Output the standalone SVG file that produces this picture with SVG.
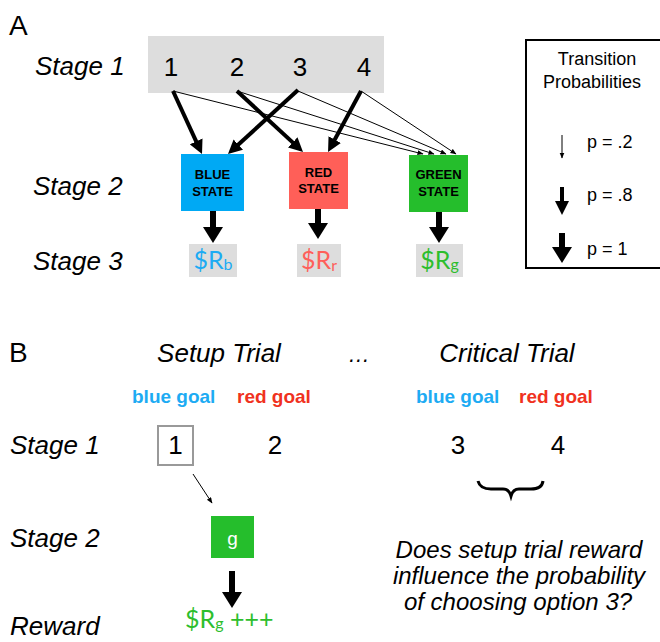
<svg xmlns="http://www.w3.org/2000/svg" width="660" height="642" viewBox="0 0 660 642">
  <style>
    text { font-family: "Liberation Sans", Arial, sans-serif; fill: #000; }
    .panel { font-size: 28px; }
    .stage { font-size: 26px; font-style: italic; }
    .num { font-size: 26px; text-anchor: middle; }
    .state { font-size: 13px; font-weight: bold; text-anchor: middle; }
    .rew { font-family: Lato, "Open Sans", sans-serif; font-size: 25px; text-anchor: middle; }
    .sub { font-size: 16px; }
    .legend { font-size: 18px; }
    .goal { font-size: 19px; font-weight: bold; }
    .trial { font-size: 26px; font-style: italic; text-anchor: middle; }
    .q { font-size: 24px; font-style: italic; text-anchor: middle; }
    .thin { stroke: #000; stroke-width: 1; fill: none; }
    .thick { stroke: #000; stroke-width: 4; fill: none; }
    .full { stroke: #000; stroke-width: 6; fill: none; }
  </style>
  <defs>
    <marker id="hThin" markerUnits="userSpaceOnUse" orient="auto" markerWidth="7" markerHeight="6" refX="5.5" refY="2.5">
      <path d="M0,0 L6,2.5 L0,5 z" fill="#000"/>
    </marker>
    <marker id="hThick" markerUnits="userSpaceOnUse" orient="auto" markerWidth="15" markerHeight="14" refX="8" refY="7">
      <path d="M0,0 L14,7 L0,14 z" fill="#000"/>
    </marker>
    <marker id="hFull" markerUnits="userSpaceOnUse" orient="auto" markerWidth="17" markerHeight="20" refX="6" refY="10">
      <path d="M0,0 L16,10 L0,20 z" fill="#000"/>
    </marker>
  </defs>

  <!-- Panel A -->
  <text class="panel" x="9" y="35">A</text>
  <text class="stage" x="35" y="75">Stage 1</text>
  <text class="stage" x="33" y="195">Stage 2</text>
  <text class="stage" x="33" y="270">Stage 3</text>

  <g id="stage1-options">
    <rect x="148" y="36" width="236" height="57" fill="#DDDDDD"/>
    <text class="num" x="171" y="76">1</text>
    <text class="num" x="237" y="76">2</text>
    <text class="num" x="300" y="76">3</text>
    <text class="num" x="364" y="76">4</text>
  </g>

  <g id="blue-state">
    <rect x="181" y="154" width="63" height="57" fill="#00A9F4"/>
    <text class="state" x="212.5" y="179">BLUE</text>
    <text class="state" x="212.5" y="196">STATE</text>
  </g>
  <g id="red-state">
    <rect x="289" y="152" width="59" height="57" fill="#FF5F58"/>
    <text class="state" x="318.5" y="177">RED</text>
    <text class="state" x="318.5" y="193">STATE</text>
  </g>
  <g id="green-state">
    <rect x="409" y="155" width="59" height="57" fill="#25BE2C"/>
    <text class="state" x="438.5" y="179">GREEN</text>
    <text class="state" x="438.5" y="196">STATE</text>
  </g>

  <g id="reward-blue">
    <rect x="189" y="244" width="48" height="33" fill="#DDDDDD"/>
    <text class="rew" x="213" y="269" style="fill:#1DABF3">$R<tspan class="sub" dy="1">b</tspan></text>
  </g>
  <g id="reward-red">
    <rect x="297" y="244" width="44" height="33" fill="#DDDDDD"/>
    <text class="rew" x="319" y="269" style="fill:#FF5F5A">$R<tspan class="sub" dy="2">r</tspan></text>
  </g>
  <g id="reward-green">
    <rect x="416" y="244" width="47" height="33" fill="#DDDDDD"/>
    <text class="rew" x="439.5" y="269" style="fill:#2DBE2D">$R<tspan class="sub" dy="1">g</tspan></text>
  </g>

  <g id="connectors-A">
    <!-- p = .8 -->
    <line class="thick" x1="173" y1="91" x2="199.5" y2="148.6" marker-end="url(#hThick)"/>
    <line class="thick" x1="298" y1="90" x2="232.4" y2="150" marker-end="url(#hThick)"/>
    <line class="thick" x1="237" y1="91" x2="298.6" y2="147.9" marker-end="url(#hThick)"/>
    <line class="thick" x1="361" y1="91" x2="330.9" y2="146.7" marker-end="url(#hThick)"/>
    <!-- p = .2 -->
    <line class="thin" x1="173" y1="91" x2="423" y2="154" marker-end="url(#hThin)"/>
    <line class="thin" x1="237" y1="91" x2="434" y2="154" marker-end="url(#hThin)"/>
    <line class="thin" x1="298" y1="91" x2="446" y2="154" marker-end="url(#hThin)"/>
    <line class="thin" x1="361" y1="91" x2="456" y2="154" marker-end="url(#hThin)"/>
    <!-- p = 1 -->
    <line class="full" x1="213" y1="211" x2="213" y2="233" marker-end="url(#hFull)"/>
    <line class="full" x1="318" y1="209" x2="318" y2="229" marker-end="url(#hFull)"/>
    <line class="full" x1="439" y1="212" x2="439" y2="233" marker-end="url(#hFull)"/>
  </g>

  <g id="legend">
    <rect x="526" y="40" width="150" height="228" fill="none" stroke="#000" stroke-width="2"/>
    <text class="legend" x="597" y="65" text-anchor="middle">Transition</text>
    <text class="legend" x="592" y="88" text-anchor="middle">Probabilities</text>
    <line class="thin" x1="562" y1="135" x2="562" y2="158" marker-end="url(#hThin)"/>
    <text class="legend" x="587" y="148">p = .2</text>
    <line class="thick" x1="562" y1="187" x2="562" y2="209" marker-end="url(#hThick)"/>
    <text class="legend" x="587" y="201">p = .8</text>
    <line class="full" x1="562" y1="233" x2="562" y2="253" marker-end="url(#hFull)"/>
    <text class="legend" x="587" y="255">p = 1</text>
  </g>

  <!-- Panel B -->
  <text class="panel" x="9" y="362">B</text>
  <text class="trial" x="219" y="362">Setup Trial</text>
  <text x="359" y="362" style="font-size:22px;font-style:italic;text-anchor:middle">…</text>
  <text class="trial" x="507" y="362">Critical Trial</text>

  <text class="goal" x="132" y="403" style="fill:#1DABF3">blue goal</text>
  <text class="goal" x="237" y="403" style="fill:#F0321E">red goal</text>
  <text class="goal" x="416" y="403" style="fill:#1DABF3">blue goal</text>
  <text class="goal" x="519" y="403" style="fill:#F0321E">red goal</text>

  <text class="stage" x="10" y="454">Stage 1</text>
  <text class="stage" x="10" y="547">Stage 2</text>
  <text class="stage" x="10" y="635">Reward</text>

  <g id="setup-option-1">
    <rect x="158" y="426" width="35" height="39" fill="#fff" stroke="#999" stroke-width="2"/>
    <text class="num" x="175.5" y="454">1</text>
  </g>
  <g id="setup-option-2">
    <text class="num" x="275" y="454">2</text>
  </g>
  <g id="setup-green-state">
    <rect x="211" y="516" width="43" height="42" fill="#25BE2C"/>
    <text x="232.5" y="545" style="font-size:19px;fill:#fff;text-anchor:middle">g</text>
  </g>
  <g id="setup-reward">
    <text x="185" y="628" style="font-family:Lato,'Open Sans',sans-serif;font-size:25px;fill:#2DBE2D">$R<tspan class="sub" dy="1">g</tspan><tspan dy="-1"> +++</tspan></text>
  </g>

  <g id="critical-option-3">
    <text class="num" x="458" y="454">3</text>
  </g>
  <g id="critical-option-4">
    <text class="num" x="558" y="454">4</text>
  </g>
  <g id="brace">
    <path d="M478,481 Q480,489 491,489 L503,489 Q509,489 511,496 Q513,489 519,489 L531,489 Q542,489 543,481" fill="none" stroke="#000" stroke-width="3"/>
  </g>
  <g id="question">
    <text class="q" x="519" y="558">Does setup trial reward</text>
    <text class="q" x="519" y="584">influence the probability</text>
    <text class="q" x="518" y="610">of choosing option 3?</text>
  </g>

  <g id="connectors-B">
    <line class="thin" x1="193" y1="474" x2="212" y2="503" marker-end="url(#hThin)"/>
    <line class="full" x1="232" y1="571" x2="232" y2="598" marker-end="url(#hFull)"/>
  </g>
</svg>
